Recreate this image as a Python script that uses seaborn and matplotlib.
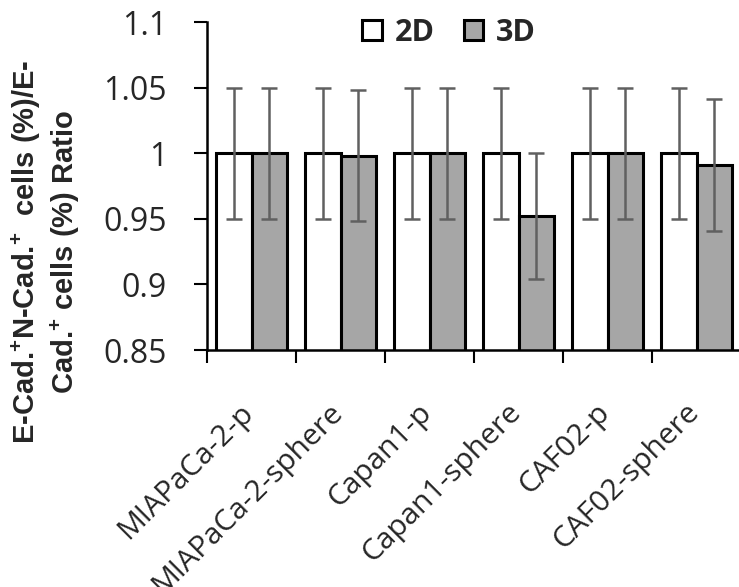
import matplotlib
matplotlib.use("Agg")
import matplotlib.pyplot as plt
from matplotlib.transforms import ScaledTranslation
import seaborn as sns
import pandas as pd

categories = ['MIAPaCa-2-p', 'MIAPaCa-2-sphere', 'Capan1-p', 'Capan1-sphere', 'CAF02-p', 'CAF02-sphere']
series_names = ['2D', '3D']
vals_2d = [1.0, 1.0, 1.0, 1.0, 1.0, 1.0]
vals_3d = [1.0, 0.998, 1.0, 0.952, 1.0, 0.991]
err_2d = [0.05, 0.05, 0.05, 0.05, 0.05, 0.05]
err_3d = [0.05, 0.05, 0.05, 0.048, 0.05, 0.05]
yticks = [0.85, 0.9, 0.95, 1.0, 1.05, 1.1]
ytick_labels = ['0.85', '0.9', '0.95', '1', '1.05', '1.1']

sns.set_theme(style='white')
plt.rcParams['font.family'] = ['Open Sans', 'DejaVu Sans']
plt.rcParams['mathtext.fontset'] = 'custom'
plt.rcParams['mathtext.rm'] = 'Liberation Sans:bold'
plt.rcParams['mathtext.bf'] = 'Liberation Sans:bold'
plt.rcParams['mathtext.it'] = 'Liberation Sans:bold'

df = pd.DataFrame({
    'cat': categories * 2,
    'series': [series_names[0]] * 6 + [series_names[1]] * 6,
    'val': vals_2d + vals_3d,
})

W, H, DPI = 739, 587, 100
fig = plt.figure(figsize=(W / DPI, H / DPI), dpi=DPI)
ax = fig.add_axes([207 / W, 1 - 350 / H, (741 - 207) / W, (350 - 22) / H])

sns.barplot(data=df, x='cat', y='val', hue='series', order=categories,
            hue_order=series_names, palette=['white', '#A6A6A6'],
            edgecolor='black', linewidth=2.2, width=0.79, errorbar=None,
            saturation=1, ax=ax)

errs = [err_2d, err_3d]
for cont, e in zip(ax.containers, errs):
    xs = [b.get_x() + b.get_width() / 2 for b in cont]
    ys = [b.get_height() for b in cont]
    ax.errorbar(xs, ys, yerr=e, fmt='none', ecolor='#606060', elinewidth=1.8,
                capsize=5.8, capthick=1.8, zorder=5)

ax.set_ylim(0.85, 1.1)
ax.set_xlim(-0.5, 5.5)
ax.set_yticks(yticks)
ax.set_yticklabels(ytick_labels)
ax.set_xlabel('')
ax.set_ylabel('')

for s in ['top', 'right']:
    ax.spines[s].set_visible(False)
for s in ['left', 'bottom']:
    ax.spines[s].set_color('black')
    ax.spines[s].set_linewidth(1.8)

ax.tick_params(axis='y', direction='out', length=9.4, width=1.5, color='black',
               pad=19.4, labelsize=23, left=True)
ax.set_xticks(range(len(categories)))
ax.set_xticklabels(categories, rotation=45, ha='right', rotation_mode='anchor', va='center')
ax.tick_params(axis='x', which='major', length=0, pad=42, labelsize=21.5)
ax.set_xticks([i - 0.5 for i in range(len(categories) + 1)], minor=True)
ax.tick_params(axis='x', which='minor', direction='out', length=9.4, width=1.5,
               color='black', bottom=True)
off = ScaledTranslation(-2 / DPI, 0, fig.dpi_scale_trans)
for lab in ax.get_xticklabels():
    lab.set_transform(lab.get_transform() + off)

leg = ax.legend(loc='center', bbox_to_anchor=(449 / W, 1 - 33 / H),
                bbox_transform=fig.transFigure, ncol=2, frameon=False,
                handlelength=0.65, handleheight=0.65, handletextpad=0.4,
                columnspacing=0.95, borderpad=0,
                prop={'family': 'Open Sans', 'weight': 'bold', 'size': 22})

fig.text(46 / W, 1 - 252 / H,
         'E-Cad.$^{+}$N-Cad.$^{+}$  cells (%)/E-\nCad.$^{+}$ cells (%) Ratio',
         rotation=90, ha='center', va='center', multialignment='center',
         fontsize=21, fontweight='bold', family=['Liberation Sans', 'DejaVu Sans'],
         linespacing=1.2)

fig.savefig('out.png', dpi=DPI)
